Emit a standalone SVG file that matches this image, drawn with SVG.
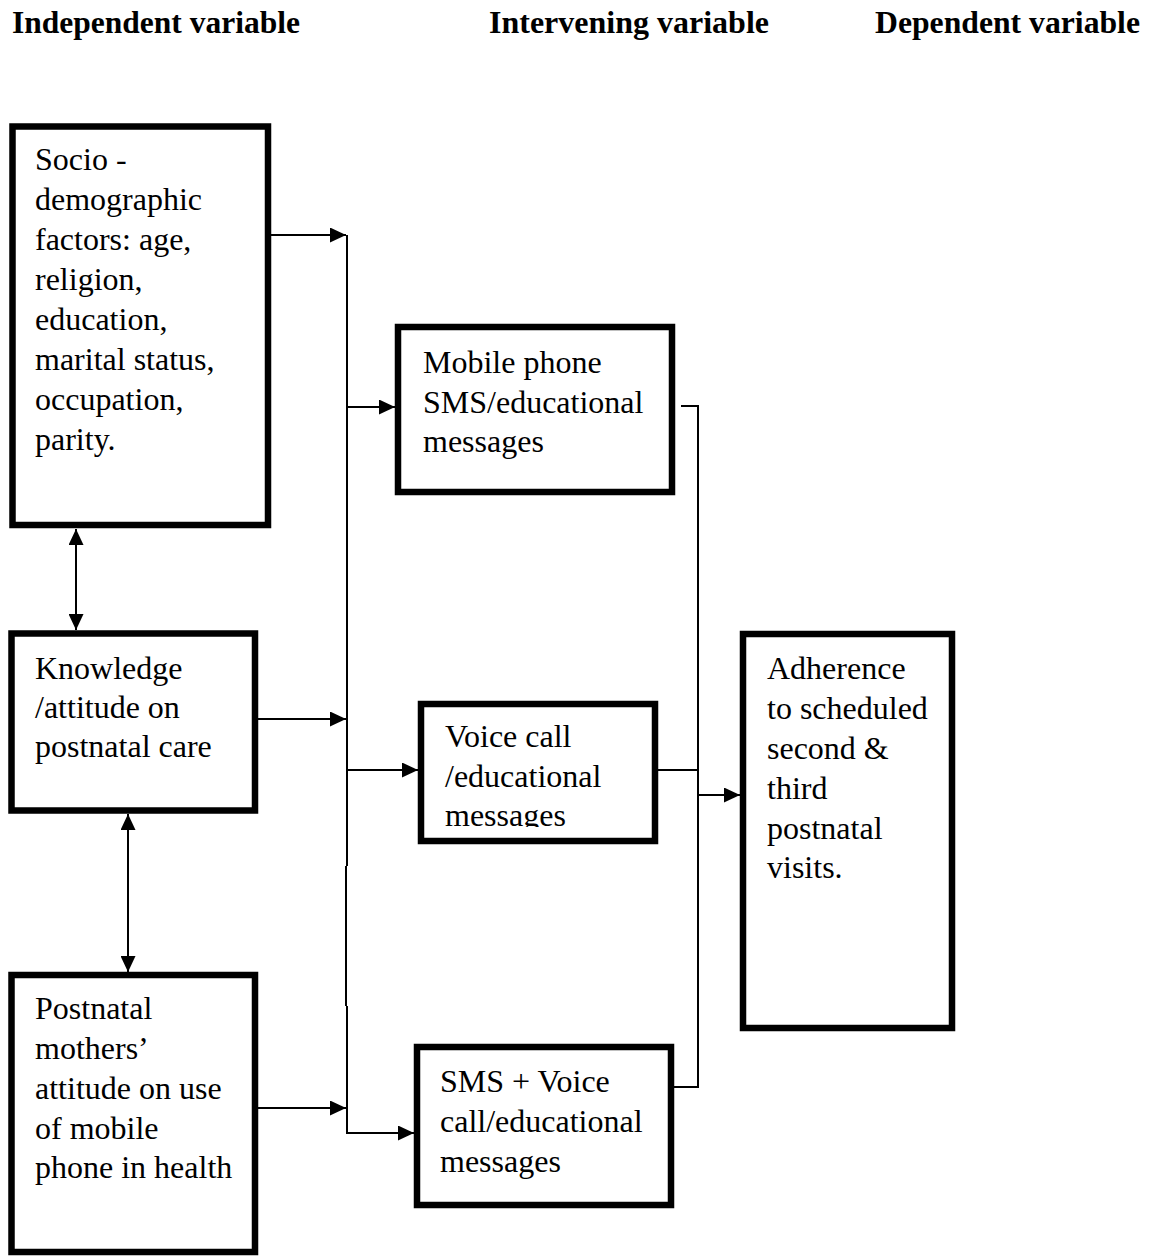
<svg xmlns="http://www.w3.org/2000/svg" width="1153" height="1256" viewBox="0 0 1153 1256">
<defs>
<style>
.box{fill:#fff;stroke:#000;stroke-width:6.5}
.t{font-family:"Liberation Serif","Times New Roman",serif;font-size:32px;fill:#000}
.h{font-family:"Liberation Serif","Times New Roman",serif;font-size:31px;font-weight:bold;fill:#000}
.c{fill:none;stroke:#000;stroke-width:2}
</style>
<marker id="ah" viewBox="0 0 16 15" refX="16" refY="7.5" markerWidth="16" markerHeight="15" markerUnits="userSpaceOnUse" orient="auto-start-reverse">
<path d="M0,0 L16,7.5 L0,15 Z" fill="#000"/>
</marker>
<clipPath id="vclip"><rect x="421" y="704" width="234" height="123"/></clipPath>
</defs>
<rect width="1153" height="1256" fill="#fff"/>
<g id="headers">
<text class="h" x="12" y="33" textLength="288" lengthAdjust="spacingAndGlyphs">Independent variable</text>
<text class="h" x="489" y="33" textLength="280" lengthAdjust="spacingAndGlyphs">Intervening variable</text>
<text class="h" x="875" y="33" textLength="265" lengthAdjust="spacingAndGlyphs">Dependent variable</text>
</g>
<g id="connectors">
<line class="c" x1="271" y1="235" x2="346" y2="235" marker-end="url(#ah)"/>
<line class="c" x1="347" y1="235" x2="347" y2="866"/>
<line class="c" x1="346" y1="866" x2="346" y2="1006"/>
<line class="c" x1="347" y1="1006" x2="347" y2="1134"/>
<line class="c" x1="347" y1="407" x2="395" y2="407" marker-end="url(#ah)"/>
<line class="c" x1="258" y1="719" x2="346" y2="719" marker-end="url(#ah)"/>
<line class="c" x1="347" y1="770" x2="418" y2="770" marker-end="url(#ah)"/>
<line class="c" x1="258" y1="1108" x2="346" y2="1108" marker-end="url(#ah)"/>
<line class="c" x1="346" y1="1133" x2="414" y2="1133" marker-end="url(#ah)"/>
<polyline class="c" points="681,406 698,406 698,1087 674,1087"/>
<line class="c" x1="658" y1="770" x2="698" y2="770"/>
<line class="c" x1="698" y1="795" x2="740" y2="795" marker-end="url(#ah)"/>
<line class="c" x1="76" y1="529" x2="76" y2="630" marker-start="url(#ah)" marker-end="url(#ah)"/>
<line class="c" x1="128" y1="814" x2="128" y2="972" marker-start="url(#ah)" marker-end="url(#ah)"/>
</g>
<g id="socio">
<rect class="box" x="12.5" y="126.5" width="255.5" height="398.5"/>
<text class="t"><tspan x="35" y="170">Socio -</tspan><tspan x="35" y="210">demographic</tspan><tspan x="35" y="250">factors: age,</tspan><tspan x="35" y="290">religion,</tspan><tspan x="35" y="330">education,</tspan><tspan x="35" y="370">marital status,</tspan><tspan x="35" y="410">occupation,</tspan><tspan x="35" y="450">parity.</tspan></text>
</g>
<g id="knowledge">
<rect class="box" x="11.5" y="633.5" width="243.5" height="177"/>
<text class="t"><tspan x="35" y="679">Knowledge</tspan><tspan x="35" y="718">/attitude on</tspan><tspan x="35" y="757">postnatal care</tspan></text>
</g>
<g id="postnatal">
<rect class="box" x="11.5" y="975" width="243.5" height="277"/>
<text class="t"><tspan x="35" y="1019">Postnatal</tspan><tspan x="35" y="1059">mothers’</tspan><tspan x="35" y="1099">attitude on use</tspan><tspan x="35" y="1139">of mobile</tspan><tspan x="35" y="1178">phone in health</tspan></text>
</g>
<g id="mobile">
<rect class="box" x="398" y="327" width="274" height="165"/>
<text class="t"><tspan x="423" y="373">Mobile phone</tspan><tspan x="423" y="413">SMS/educational</tspan><tspan x="423" y="452">messages</tspan></text>
</g>
<g id="voice">
<rect class="box" x="421" y="704" width="234" height="137"/>
<text class="t" clip-path="url(#vclip)"><tspan x="445" y="747">Voice call</tspan><tspan x="445" y="787">/educational</tspan><tspan x="445" y="826">messages</tspan></text>
</g>
<g id="smsvoice">
<rect class="box" x="417" y="1047" width="254" height="158"/>
<text class="t"><tspan x="440" y="1092">SMS + Voice</tspan><tspan x="440" y="1132">call/educational</tspan><tspan x="440" y="1172">messages</tspan></text>
</g>
<g id="adherence">
<rect class="box" x="743" y="634" width="209" height="394"/>
<text class="t"><tspan x="767" y="679">Adherence</tspan><tspan x="767" y="719">to scheduled</tspan><tspan x="767" y="759">second &amp;</tspan><tspan x="767" y="799">third</tspan><tspan x="767" y="839">postnatal</tspan><tspan x="767" y="878">visits.</tspan></text>
</g>
</svg>
